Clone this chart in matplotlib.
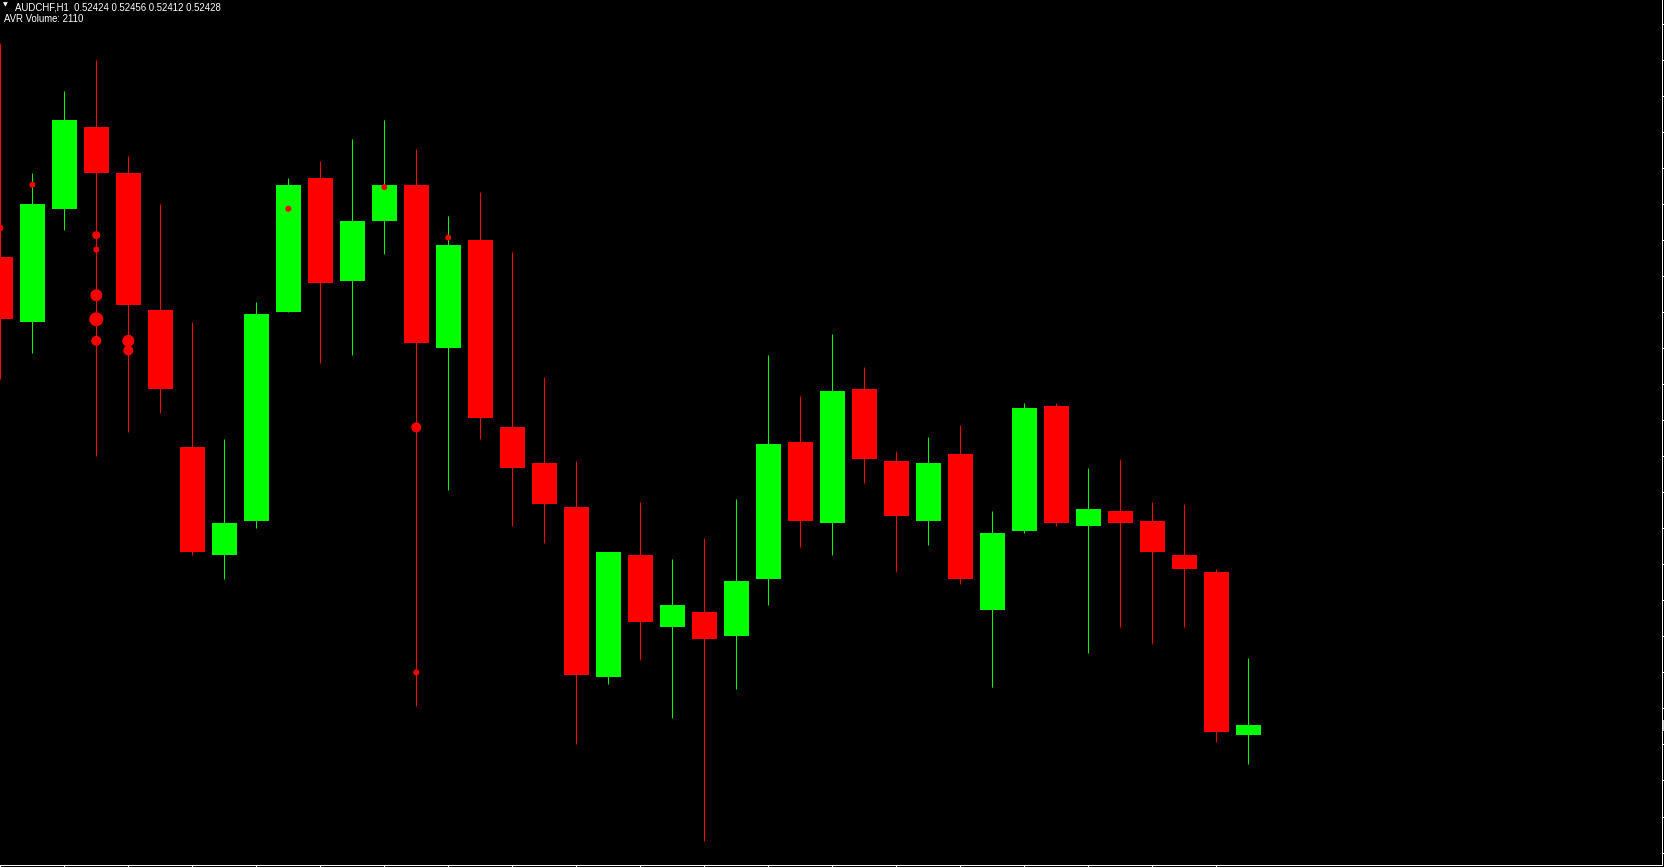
import numpy as np
import matplotlib
matplotlib.use("Agg")
import matplotlib.pyplot as plt
import matplotlib.transforms as mtransforms

symbol = "AUDCHF,H1"

# OHLC of the 40 hourly bars, oldest first
opens = [0.52623, 0.52596, 0.52643, 0.52677, 0.52658, 0.52601, 0.52544, 0.52499,
         0.52513, 0.52600, 0.52656, 0.52613, 0.52638, 0.52653, 0.52585, 0.52630,
         0.52552, 0.52537, 0.52519, 0.52448, 0.52499, 0.52469, 0.52475, 0.52465,
         0.52489, 0.52546, 0.52512, 0.52568, 0.52538, 0.52513, 0.52541, 0.52476,
         0.52509, 0.52561, 0.52511, 0.52517, 0.52513, 0.52499, 0.52492, 0.52424]
highs = [0.52712, 0.52658, 0.52692, 0.52705, 0.52665, 0.52645, 0.52596, 0.52547,
         0.52604, 0.52656, 0.52663, 0.52672, 0.52680, 0.52668, 0.52640, 0.52650,
         0.52625, 0.52573, 0.52538, 0.52500, 0.52521, 0.52497, 0.52506, 0.52522,
         0.52582, 0.52565, 0.52591, 0.52577, 0.52542, 0.52548, 0.52553, 0.52517,
         0.52562, 0.52562, 0.52535, 0.52539, 0.52521, 0.52520, 0.52493, 0.52456]
lows = [0.52572, 0.52583, 0.52634, 0.52540, 0.52550, 0.52558, 0.52499, 0.52489,
        0.52510, 0.52600, 0.52579, 0.52582, 0.52624, 0.52436, 0.52526, 0.52547,
        0.52511, 0.52504, 0.52420, 0.52445, 0.52455, 0.52431, 0.52380, 0.52443,
        0.52478, 0.52502, 0.52499, 0.52529, 0.52492, 0.52503, 0.52487, 0.52444,
        0.52508, 0.52511, 0.52458, 0.52469, 0.52462, 0.52469, 0.52421, 0.52412]
closes = [0.52597, 0.52645, 0.52680, 0.52658, 0.52603, 0.52568, 0.52500, 0.52512,
          0.52599, 0.52653, 0.52612, 0.52638, 0.52653, 0.52587, 0.52628, 0.52556,
          0.52535, 0.52520, 0.52449, 0.52500, 0.52471, 0.52478, 0.52464, 0.52488,
          0.52545, 0.52513, 0.52567, 0.52539, 0.52515, 0.52537, 0.52489, 0.52508,
          0.52560, 0.52512, 0.52518, 0.52512, 0.52500, 0.52493, 0.52425, 0.52428]

avr_volume = 2110

# volume dots of the indicator: bar index, price, dot weight
dot_bar = [0, 1, 3, 3, 3, 3, 3, 4, 4, 9, 12, 13, 13, 14]
dot_price = [0.52635, 0.52653, 0.52632, 0.52626, 0.52607, 0.52597, 0.52588,
             0.52588, 0.52584, 0.52643, 0.52652, 0.52552, 0.52450, 0.52631]
dot_weight = [6, 6, 8, 6, 12, 14, 10, 12, 10, 6, 6, 10, 6, 6]

W, H = 1665, 867
px = 0.72  # one pixel in points at dpi 100

fig = plt.figure(figsize=(W / 100, H / 100), dpi=100, facecolor="black")
ax = fig.add_axes([0, 1.7 / H, 1662.3 / W, 865.3 / H])
ax.set_facecolor("black")

x = np.arange(len(opens))
o = np.array(opens)
c = np.array(closes)
up = c >= o
cols = np.where(up, "#00ff00", "#ff0000")

ax.vlines(x, lows, highs, colors=cols, linewidth=1 * px, zorder=2)
ax.bar(x, np.abs(c - o), bottom=np.minimum(o, c), width=0.77,
       color=cols, linewidth=0, zorder=3)

ax.scatter(dot_bar, dot_price, s=(np.array(dot_weight) * px) ** 2,
           color="#ff0000", linewidths=0, zorder=4)

ax.set_xlim(-0.3 / 32, 1662 / 32)
ax.set_ylim(0.523697, 0.527299)

# axis frame like the terminal: right and bottom only
for s in ["left", "top"]:
    ax.spines[s].set_visible(False)
for s in ["right", "bottom"]:
    ax.spines[s].set_color("white")
    ax.spines[s].set_linewidth(1 * px)

ax.yaxis.tick_right()
ax.set_yticks(np.arange(0.52720, 0.52370, -0.00015))
ax.set_xticks(x[::2])
ax.tick_params(axis="y", direction="out", length=3 * px, width=1 * px,
               color="white", labelright=False, labelleft=False)
ax.tick_params(axis="x", direction="out", length=2 * px, width=1 * px,
               color="white", labelbottom=False)

# current price mark on the scale
trans = mtransforms.blended_transform_factory(ax.transAxes, ax.transData)
ax.plot([1.0012], [closes[-1]], marker="|", markersize=11 * px,
        markeredgewidth=1.5 * px, color="white", transform=trans, clip_on=False)

# header lines
fig.text(2.5 / W, 1 - 2.5 / H, "\u25bc", color="white", fontsize=4.5,
         va="top", ha="left", family="DejaVu Sans")
head = f"{symbol}  {opens[-1]:.5f} {highs[-1]:.5f} {lows[-1]:.5f} {closes[-1]:.5f}"
fig.text(15 / W, 1 - 2 / H, head, color="white", fontsize=6.9,
         va="top", ha="left", family="Liberation Sans")
fig.text(4 / W, 1 - 14.5 / H, f"AVR Volume: {avr_volume}", color="white",
         fontsize=6.9, va="top", ha="left", family="Liberation Sans")

fig.savefig("out.png", dpi=100, facecolor="black")
